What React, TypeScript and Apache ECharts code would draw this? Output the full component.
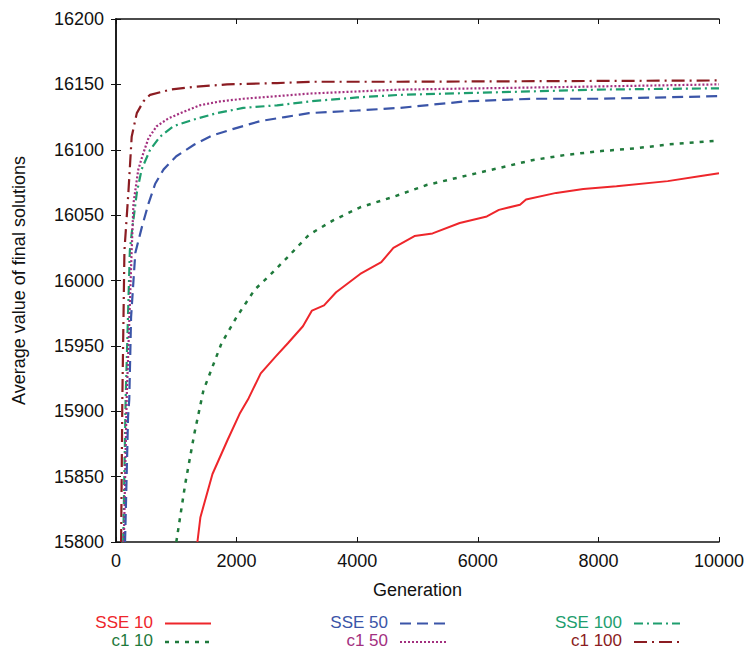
import React, { useEffect, useRef } from "react";
import * as echarts from "echarts";

// Generation (x) and average value (y) per series
const sse10Gen = [1350, 1400, 1600, 1850, 2050, 2200, 2400, 2650, 2850, 3100, 3250, 3450, 3650, 4050, 4400, 4600, 4950, 5250, 5700, 6150, 6350, 6700, 6800, 7300, 7750, 8300, 9150, 9700, 10000];
const sse10Val = [15800, 15819, 15852, 15878, 15898, 15910, 15929, 15942, 15952, 15965, 15977, 15981, 15991, 16005, 16014, 16025, 16034, 16036, 16044, 16049, 16054, 16058, 16062, 16067, 16070, 16072, 16076, 16080, 16082];

const c110Gen = [1000, 1150, 1300, 1450, 1600, 1750, 2000, 2300, 2550, 2850, 3200, 3600, 4050, 4600, 5150, 5700, 6350, 6900, 7450, 8050, 8600, 9150, 10000];
const c110Val = [15800, 15845, 15883, 15916, 15934, 15952, 15972, 15993, 16004, 16018, 16035, 16046, 16056, 16064, 16073, 16079, 16086, 16092, 16096, 16099, 16101, 16104, 16107];

const sse50Gen = [150, 200, 220, 250, 320, 430, 540, 650, 790, 1000, 1300, 1600, 1950, 2400, 2800, 3200, 4000, 4700, 5800, 6900, 8000, 10000];
const sse50Val = [15800, 15896, 15909, 15972, 16021, 16041, 16059, 16074, 16085, 16095, 16104, 16111, 16116, 16122, 16125, 16128, 16130, 16132, 16137, 16139, 16139, 16141];

const c150Gen = [130, 177, 260, 290, 370, 450, 540, 675, 870, 1120, 1390, 1730, 2110, 2670, 3220, 4700, 7470, 10000];
const c150Val = [15800, 15909, 16023, 16059, 16085, 16097, 16109, 16118, 16124, 16129, 16134, 16137, 16139, 16141, 16143, 16146, 16148, 16150];

const sse100Gen = [120, 160, 230, 260, 345, 425, 565, 730, 950, 1280, 1670, 2110, 2670, 3220, 4000, 4700, 6350, 8000, 10000];
const sse100Val = [15800, 15909, 16023, 16036, 16067, 16085, 16100, 16110, 16118, 16123, 16128, 16132, 16134, 16137, 16140, 16142, 16144, 16146, 16147];

const c1100Gen = [85, 105, 140, 205, 260, 345, 455, 565, 900, 1280, 1840, 2670, 3220, 4700, 10000];
const c1100Val = [15800, 15909, 16023, 16067, 16110, 16128, 16137, 16142, 16146, 16148, 16150, 16151, 16152, 16152, 16153];

const seriesNames = ["SSE 10", "c1 10", "SSE 50", "c1 50", "SSE 100", "c1 100"];
const seriesGens = [sse10Gen, c110Gen, sse50Gen, c150Gen, sse100Gen, c1100Gen];
const seriesVals = [sse10Val, c110Val, sse50Val, c150Val, sse100Val, c1100Val];

const colors = ["#ee262b", "#1f7a3c", "#3b55a8", "#a3307f", "#1e9e6e", "#8b1c22"];
const dashes: (number[] | "solid")[] = ["solid", [4, 6], [11, 6], [2, 2], [9, 4, 2, 4], [13, 5, 2, 5]];
const widths = [2, 2.5, 2.2, 2.2, 2.2, 2.2];

const xTicks = { min: 0, max: 10000, interval: 2000 };
const yTicks = { min: 15800, max: 16200, interval: 50 };

const FONT = "'Liberation Sans', Arial, Helvetica, sans-serif";

export default function App() {
  const ref = useRef<HTMLDivElement>(null);
  useEffect(() => {
    if (!ref.current) return;
    const chart = echarts.init(ref.current, undefined, { renderer: "svg" });

    const series = seriesNames.map((name, i) => ({
      name,
      type: "line",
      xAxisIndex: 0,
      yAxisIndex: 0,
      showSymbol: false,
      symbol: "none",
      clip: true,
      data: seriesGens[i].map((g, j) => [g, seriesVals[i][j]]),
      lineStyle: { color: colors[i], width: widths[i], type: dashes[i] },
      itemStyle: { color: colors[i] },
      z: 10 - i,
    }));

    // legend as graphic (text right-aligned, line sample to its right)
    const colX = [153, 388, 622];
    const rowY = [622, 640.5];
    const legendEls: any[] = [];
    seriesNames.forEach((name, i) => {
      const col = Math.floor(i / 2);
      const row = i % 2;
      legendEls.push({
        type: "text",
        x: colX[col],
        y: rowY[row],
        style: {
          text: name,
          fill: colors[i],
          font: `17px ${FONT}`,
          lineHeight: 16,
          textAlign: "right",
          textVerticalAlign: "middle",
        },
      });
      legendEls.push({
        type: "line",
        shape: { x1: colX[col] + 12, y1: rowY[row] + 1.5, x2: colX[col] + 58, y2: rowY[row] + 1.5 },
        style: {
          stroke: colors[i],
          lineWidth: widths[i],
          lineDash: dashes[i] === "solid" ? null : dashes[i],
        },
      });
    });

    const axisLine = { show: true, lineStyle: { color: "#111", width: 1.5 } };
    const tickStyle = { show: true, inside: true, length: 5, lineStyle: { color: "#111", width: 1 } };
    const fmt = (v: number) => String(v);

    chart.setOption({
      animation: false,
      backgroundColor: "#ffffff",
      textStyle: { fontFamily: FONT },
      grid: { left: 116, top: 19, right: 30, bottom: 109, show: false },
      xAxis: [
        {
          type: "value",
          position: "bottom",
          ...xTicks,
          name: "Generation",
          nameLocation: "middle",
          nameGap: 39,
          nameTextStyle: { fontSize: 18, color: "#111", fontFamily: FONT },
          axisLine,
          axisTick: tickStyle,
          splitLine: { show: false },
          axisLabel: { fontSize: 18, color: "#111", margin: 10, fontFamily: FONT, formatter: fmt },
        },
        {
          type: "value",
          position: "top",
          ...xTicks,
          axisLine,
          axisTick: tickStyle,
          splitLine: { show: false },
          axisLabel: { show: false },
        },
      ],
      yAxis: [
        {
          type: "value",
          position: "left",
          ...yTicks,
          name: "Average value of final solutions",
          nameLocation: "middle",
          nameGap: 88,
          nameTextStyle: { fontSize: 18, color: "#111", fontFamily: FONT },
          axisLine,
          axisTick: tickStyle,
          splitLine: { show: false },
          axisLabel: { fontSize: 18, color: "#111", margin: 12, fontFamily: FONT, formatter: fmt },
        },
        {
          type: "value",
          position: "right",
          ...yTicks,
          axisLine,
          axisTick: tickStyle,
          splitLine: { show: false },
          axisLabel: { show: false },
        },
      ],
      series,
      graphic: legendEls,
    });

    return () => chart.dispose();
  }, []);

  return (
    <div
      ref={ref}
      style={{ position: "fixed", left: 0, top: 0, width: 749, height: 651, background: "#fff" }}
    />
  );
}
